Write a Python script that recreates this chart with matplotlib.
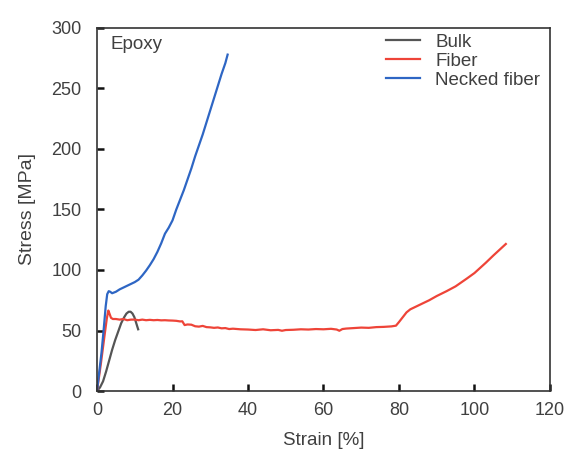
import matplotlib
matplotlib.use("Agg")
import matplotlib.pyplot as plt

plt.rcParams['font.family'] = ['Liberation Sans', 'DejaVu Sans']

# Bulk
bulk_x = [0, 0.8, 1.6, 2.4, 3.2, 4.0, 4.8, 5.6, 6.4, 7.2, 7.8, 8.4, 8.9, 9.4, 9.9, 10.4, 10.9]
bulk_y = [0, 3, 8, 16, 25, 34, 42, 49, 56, 61, 64, 65.5, 65.5, 64, 61, 56, 51]

# Fiber
fiber_x = [0, 1.0, 2.0, 2.6, 3.0, 3.3, 3.7, 4.2, 5, 6, 7, 8, 9, 10, 11, 12, 13, 14, 15, 16, 17, 18, 19, 20,
           21, 22, 22.6, 23.2, 24, 25, 26, 27, 28, 29, 30, 31, 32, 33, 34, 35, 36, 38, 40, 42, 44, 46,
           48, 49, 50, 52, 54, 56, 58, 60, 62, 63.5, 64.2, 65, 66, 68, 70, 72, 74, 76, 78, 79.2,
           80.0, 81, 82, 83, 85, 88, 90, 92.6, 95, 98, 100, 103, 105, 108.3]
fiber_y = [0, 22, 46, 60, 66.5, 64, 60.5, 59.5, 59.5, 59, 59.5, 58.5, 59, 59, 58.5, 59, 58.5, 58.8, 58.5, 58.7, 58.4, 58.5, 58.3, 58.2,
           58, 57.5, 57.6, 54.5, 55, 54.8, 53.5, 53.2, 53.8, 52.8, 52.6, 52.2, 52.5, 51.8, 52, 51.2, 51.5, 51, 50.8, 50.4, 51, 50.2,
           50.5, 49.8, 50.4, 50.6, 51, 50.8, 51.2, 51, 51.4, 50.8, 49.8, 51.2, 51.6, 52, 52.4, 52.2, 52.8, 53, 53.4, 54,
           57, 61, 65, 67.5, 70.5, 75, 78.5, 82.5, 86.5, 93, 97.5, 106, 112, 121.5]

# Necked fiber
neck_x = [0, 0.6, 1.2, 1.8, 2.3, 2.7, 3.1, 3.5, 4.0, 5, 6, 7, 8, 9, 10, 11, 12, 13, 14, 15, 16, 17, 18,
          19, 20, 21, 22, 23, 24, 25, 26, 27, 28, 29, 30, 31, 32, 33, 34, 34.6]
neck_y = [0, 16, 32, 52, 70, 80, 82.5, 82, 80.8, 82, 84, 85.5, 87, 88.5, 90, 92, 95.5, 99.5, 104, 109, 115, 122, 130,
          135, 141, 150, 158, 166, 175, 184, 194, 203, 212, 222, 232, 242, 252, 262, 271, 278]

x_ticks = [0, 20, 40, 60, 80, 100, 120]
y_ticks = [0, 50, 100, 150, 200, 250, 300]

fig = plt.figure(figsize=(5.66, 4.5), dpi=100)
ax = fig.add_axes([0.1714, 0.1311, 0.8003, 0.8067])

text_col = '#404040'
ax.plot(bulk_x, bulk_y, color='#555555', lw=1.6, label='Bulk')
ax.plot(fiber_x, fiber_y, color='#ee4438', lw=1.6, label='Fiber')
ax.plot(neck_x, neck_y, color='#2e66c4', lw=1.6, label='Necked fiber')

ax.set_xlim(0, 120)
ax.set_ylim(0, 300)
ax.set_xticks(x_ticks)
ax.set_yticks(y_ticks)
ax.tick_params(direction='in', length=5, width=1.8, labelsize=13, colors='#111111',
               labelcolor=text_col)
ax.tick_params(axis='y', pad=11)
ax.tick_params(axis='x', pad=8)
for s in ax.spines.values():
    s.set_color('#333333')
    s.set_linewidth(1.2)

ax.set_xlabel('Strain [%]', fontsize=13.5, color=text_col, labelpad=9)
ax.set_ylabel('Stress [MPa]', fontsize=14, color=text_col, labelpad=11)

ax.text(0.03, 0.978, 'Epoxy', transform=ax.transAxes, fontsize=13.5, color=text_col,
        va='top', ha='left')

leg = ax.legend(loc='upper right', frameon=False, fontsize=13.5, handlelength=1.85,
                handletextpad=0.8, labelspacing=0.1, borderaxespad=0.0,
                bbox_to_anchor=(0.995, 1.005))
for t in leg.get_texts():
    t.set_color(text_col)

fig.savefig('out.png', dpi=100)
